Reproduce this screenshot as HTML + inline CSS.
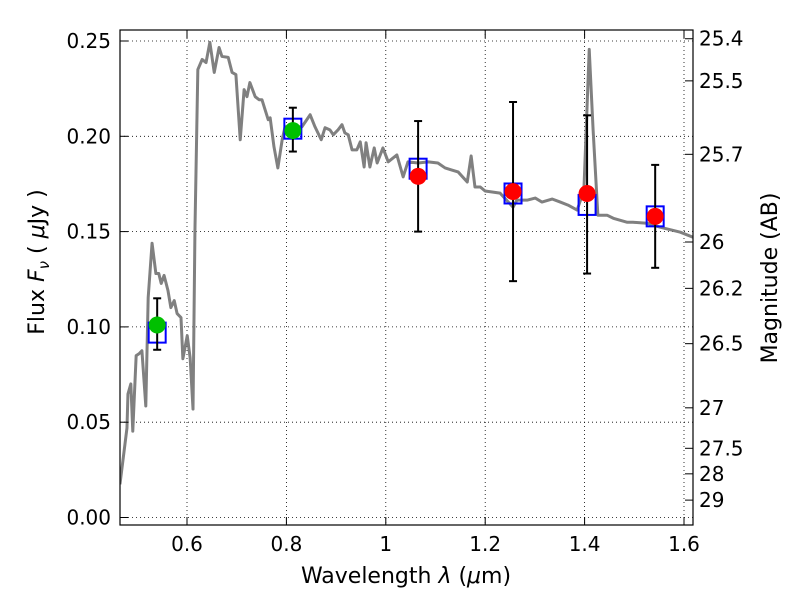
<!DOCTYPE html>
<html><head><meta charset="utf-8"><style>
body{margin:0;background:#fff}
svg{font-family:"DejaVu Sans","Liberation Sans",sans-serif}
</style></head><body>
<svg id="chart" width="800" height="600" xmlns="http://www.w3.org/2000/svg">
<g id="grid"></g>
<g id="spec"></g>
<g id="marks"></g>
<g id="axes"></g>
<text x="406" y="583" text-anchor="middle" font-size="22">Wavelength  <tspan font-style="italic">λ</tspan> (<tspan font-style="italic">μ</tspan>m)</text>
<text transform="translate(44,262) rotate(-90)" text-anchor="middle" font-size="22">Flux  <tspan font-style="italic">F</tspan><tspan font-style="italic" font-size="15" dy="5">ν</tspan><tspan dy="-5">  ( </tspan><tspan font-style="italic">μ</tspan>Jy )</text>
<text transform="translate(777,278) rotate(-90)" text-anchor="middle" font-size="22">Magnitude (AB)</text>
</svg>
<script>
const specLam=[0.4651,0.4792,0.4812,0.4870,0.4909,0.4977,0.5035,0.5093,0.5171,0.5219,0.5297,0.5374,0.5432,0.5481,0.5539,0.5617,0.5675,0.5743,0.5801,0.5879,0.5917,0.6005,0.6063,0.6121,0.6160,0.6218,0.6305,0.6383,0.6460,0.6548,0.6645,0.6703,0.6829,0.6907,0.6984,0.7071,0.7149,0.7207,0.7265,0.7372,0.7450,0.7508,0.7634,0.7673,0.7750,0.7828,0.7915,0.7973,0.8313,0.8478,0.8575,0.8701,0.8778,0.8875,0.8943,0.9040,0.9118,0.9176,0.9244,0.9321,0.9418,0.9486,0.9564,0.9603,0.9680,0.9767,0.9826,0.9942,1.0049,1.0223,1.0349,1.0446,1.0650,1.0854,1.1048,1.1193,1.1329,1.1455,1.1639,1.1717,1.1794,1.1901,1.1998,1.2299,1.2561,1.2638,1.2842,1.3007,1.3142,1.3346,1.3511,1.3666,1.3850,1.3986,1.4093,1.4171,1.4267,1.4452,1.4578,1.4859,1.4975,1.5257,1.5519,1.5926,1.6188];
const specFlux=[0.0174,0.0469,0.0648,0.0701,0.0453,0.0849,0.0859,0.0875,0.0585,0.1154,0.1439,0.128,0.128,0.1228,0.127,0.1191,0.1101,0.1138,0.107,0.1049,0.0833,0.0954,0.0838,0.0569,0.1507,0.235,0.2403,0.2387,0.2493,0.2335,0.2466,0.2419,0.2414,0.2335,0.2324,0.1982,0.2245,0.2208,0.2282,0.2208,0.2192,0.2192,0.2087,0.2097,0.1945,0.1834,0.1982,0.205,0.205,0.2113,0.205,0.1982,0.2045,0.2034,0.2008,0.2034,0.2061,0.2018,0.2008,0.1929,0.1929,0.1971,0.1839,0.1966,0.1839,0.1939,0.186,0.1939,0.1866,0.1902,0.1787,0.1866,0.186,0.1866,0.186,0.1834,0.1823,0.1813,0.176,0.1897,0.1734,0.1734,0.1713,0.1702,0.1628,0.1665,0.1665,0.1676,0.1655,0.1671,0.1655,0.1639,0.1613,0.1718,0.2456,0.2034,0.1586,0.1586,0.157,0.1549,0.1549,0.1544,0.1523,0.1497,0.147];
const obsLam=[0.540,0.813,1.065,1.256,1.405,1.542];
const obsFlux=[0.101,0.203,0.179,0.171,0.170,0.158];
const obsLo=[0.088,0.192,0.150,0.124,0.128,0.131];
const obsHi=[0.115,0.215,0.208,0.218,0.211,0.185];
const obsColor=["#00c000","#00c000","#ff0000","#ff0000","#ff0000","#ff0000"];
const modelFlux=[0.097,0.204,0.183,0.170,0.164,0.158];
const xTicks=[0.6,0.8,1.0,1.2,1.4,1.6];
const xTickLabels=["0.6","0.8","1","1.2","1.4","1.6"];
const yTicks=[0,0.05,0.10,0.15,0.20,0.25];
const yTickLabels=["0.00","0.05","0.10","0.15","0.20","0.25"];
const magTicks=[25.4,25.5,25.7,26,26.2,26.5,27,27.5,28,29];
const magTickLabels=["25.4","25.5","25.7","26","26.2","26.5","27","27.5","28","29"];

const L=120,R=693,T=30,B=525;
const X=v=>187+(v-0.6)*497;
const Y=v=>517.5-v*1906;
const NS="http://www.w3.org/2000/svg";
function mk(tag,parent,attrs){const e=document.createElementNS(NS,tag);for(const k in attrs)e.setAttribute(k,attrs[k]);parent.appendChild(e);return e;}
const grid=document.getElementById('grid'),axes=document.getElementById('axes'),spec=document.getElementById('spec'),marks=document.getElementById('marks');

xTicks.forEach((v,i)=>{
  const g=mk('line',grid,{x1:X(v),x2:X(v),y1:T,y2:B,stroke:'#000','stroke-width':0.8,'stroke-dasharray':'1,3'});
  
  
  mk('line',axes,{x1:X(v),x2:X(v),y1:B,y2:B-8,stroke:'#000','stroke-width':1});
  mk('line',axes,{x1:X(v),x2:X(v),y1:T,y2:T+8,stroke:'#000','stroke-width':1});
  const t=mk('text',axes,{x:X(v),y:B+26,'text-anchor':'middle','font-size':20});
  t.textContent=xTickLabels[i];
  
  
});
yTicks.forEach((v,i)=>{
  const g=mk('line',grid,{x1:L,x2:R,y1:Y(v),y2:Y(v),stroke:'#000','stroke-width':0.8,'stroke-dasharray':'1,3'});
  
  
  mk('line',axes,{x1:L,x2:L+8,y1:Y(v),y2:Y(v),stroke:'#000','stroke-width':1});
  const t=mk('text',axes,{x:L-9,y:Y(v)+7,'text-anchor':'end','font-size':20});
  t.textContent=yTickLabels[i];
  
  
});
magTicks.forEach((m,i)=>{
  const y=Y(Math.pow(10,(23.9-m)/2.5));
  mk('line',axes,{x1:R,x2:R-8,y1:y,y2:y,stroke:'#000','stroke-width':1});
  const t=mk('text',axes,{x:R+6,y:y+7,'font-size':20});
  t.textContent=magTickLabels[i];
  
  
});
const fr=mk('rect',axes,{x:L,y:T,width:R-L,height:B-T,fill:'none',stroke:'#000','stroke-width':1.2});



const cp=mk('clipPath',spec,{id:'clip'});mk('rect',cp,{x:L,y:T,width:R-L,height:B-T});
const pl=mk('polyline',spec,{points:specLam.map((l,i)=>X(l)+','+Y(specFlux[i])).join(' '),fill:'none',stroke:'#808080','stroke-width':3,'stroke-linejoin':'round','clip-path':'url(#clip)'});



obsLam.forEach((l,i)=>{
  const x=X(l);
  const sq=mk('rect',marks,{x:x-8.5,y:Y(modelFlux[i])-10,width:17,height:20,fill:'none',stroke:'#0000ff','stroke-width':2});
  
  
  const eb=mk('g',marks,{stroke:'#000','stroke-width':2});
  
  
  mk('line',eb,{x1:x,x2:x,y1:Y(obsLo[i]),y2:Y(obsHi[i])});
  mk('line',eb,{x1:x-4,x2:x+4,y1:Y(obsLo[i]),y2:Y(obsLo[i])});
  mk('line',eb,{x1:x-4,x2:x+4,y1:Y(obsHi[i]),y2:Y(obsHi[i])});
  const c=mk('circle',marks,{cx:x,cy:Y(obsFlux[i]),r:8.5,fill:obsColor[i]});
  
  
});
</script>
</body></html>
